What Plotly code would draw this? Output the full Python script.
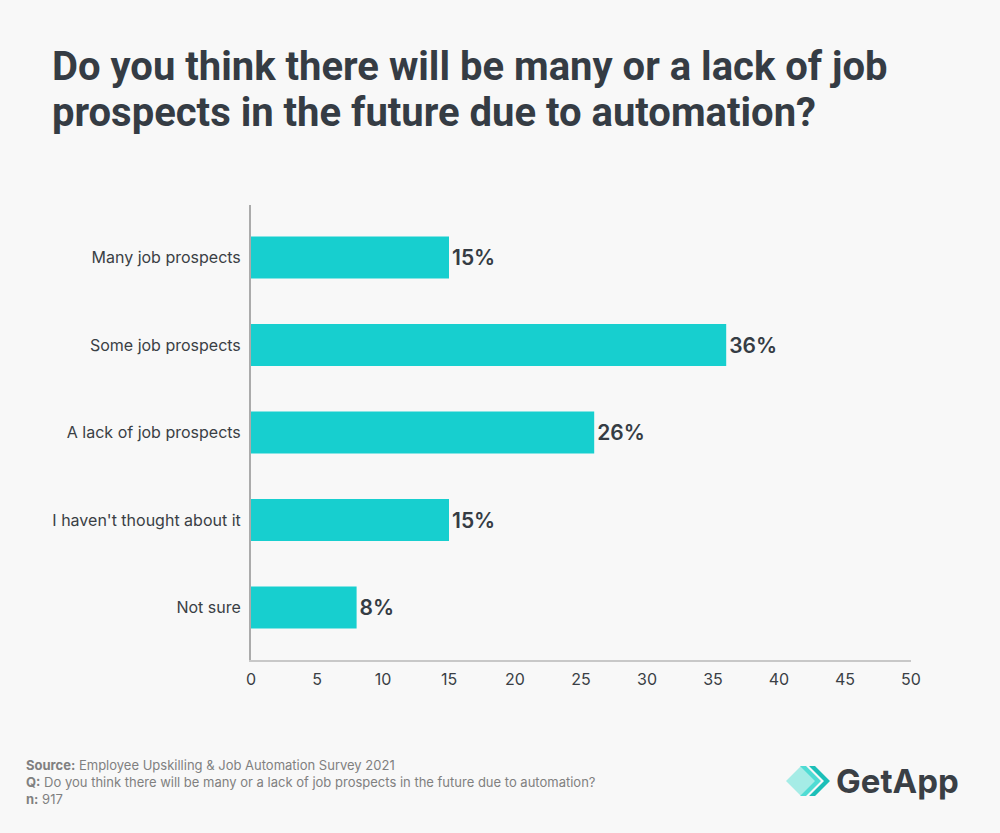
import plotly.graph_objects as go

categories = ["Many job prospects", "Some job prospects", "A lack of job prospects",
              "I haven't thought about it", "Not sure"]
values = [15, 36, 26, 15, 8]
labels = ["15%", "36%", "26%", "15%", "8%"]
x_ticks = [0, 5, 10, 15, 20, 25, 30, 35, 40, 45, 50]

BG = "#f8f8f8"
BAR = "#17cfcf"
DARK = "#353c44"
FONT = "Inter, Roboto, sans-serif"

fig = go.Figure()
fig.add_trace(go.Bar(
    y=categories, x=values, orientation="h",
    marker=dict(color=BAR, line=dict(width=0)),
    width=0.48,
    text=labels, textposition="outside", cliponaxis=False,
    textfont=dict(family=FONT, size=21, color=DARK, weight=600),
    hoverinfo="skip",
))

fig.update_layout(
    width=1000, height=833,
    paper_bgcolor=BG, plot_bgcolor=BG,
    margin=dict(l=251, r=89, t=205, b=173),
    showlegend=False,
    font=dict(family=FONT, color=DARK),
    xaxis=dict(range=[0, 50], tickvals=x_ticks, showgrid=False, zeroline=False,
               showline=True, linecolor="#c8c8c8", linewidth=2, ticks="",
               tickfont=dict(size=16, color="#3a3f45"), ticklabelstandoff=4),
    yaxis=dict(categoryorder="array", categoryarray=categories, autorange=False,
               range=[4.6, -0.6], showgrid=False, zeroline=False,
               showline=True, linecolor="#ababab", linewidth=2, ticks="",
               tickfont=dict(size=16, color="#3a3f45"), ticklabelstandoff=5),
    bargap=0.52,
)

def px(x):
    return (x - 251) / 660

def py(y):
    return (660 - y) / 455

title_lines = ["Do you think there will be many or a lack of job",
               "prospects in the future due to automation?"]
for i, line in enumerate(title_lines):
    fig.add_annotation(
        xref="paper", yref="paper", x=px(50), y=py(67 + 45 * i), xanchor="left", yanchor="middle",
        align="left", showarrow=False, text=f"<b>{line}</b>",
        font=dict(family="Roboto, Inter, sans-serif", size=40, color=DARK),
    )

foot_lines = ["<b>Source:</b> Employee Upskilling &amp; Job Automation Survey 2021",
              "<b>Q:</b> Do you think there will be many or a lack of job prospects in the future due to automation?",
              "<b>n:</b> 917"]
for i, line in enumerate(foot_lines):
    fig.add_annotation(
        xref="paper", yref="paper", x=px(24), y=py(765 + 17 * i), xanchor="left", yanchor="middle",
        align="left", showarrow=False, text=line,
        font=dict(family=FONT, size=13, color="#808080"),
    )

fig.add_annotation(
    xref="paper", yref="paper", x=px(834), y=py(781), xanchor="left", yanchor="middle",
    showarrow=False, text="<b>GetApp</b>",
    font=dict(family=FONT, size=33, color="#3a3f45"),
)

def path(points):
    return "M " + " L ".join(f"{px(x)},{py(y)}" for x, y in points) + " Z"

cy = 781
fig.add_shape(type="path", xref="paper", yref="paper",
              path=path([(786, cy), (801, cy-15), (816, cy), (801, cy+15)]),
              fillcolor="#a5ece6", line=dict(width=0))
fig.add_shape(type="path", xref="paper", yref="paper",
              path=path([(800, cy-15), (806, cy-15), (821, cy), (806, cy+15), (800, cy+15), (815, cy)]),
              fillcolor="#4fdcd4", line=dict(width=0))
fig.add_shape(type="path", xref="paper", yref="paper",
              path=path([(809, cy-15), (815, cy-15), (830, cy), (815, cy+15), (809, cy+15), (824, cy)]),
              fillcolor="#1cbfb8", line=dict(width=0))

fig.write_html("out.html", config={"displayModeBar": False},
               post_script="document.body.style.margin='0';document.body.style.background='#f8f8f8';")
